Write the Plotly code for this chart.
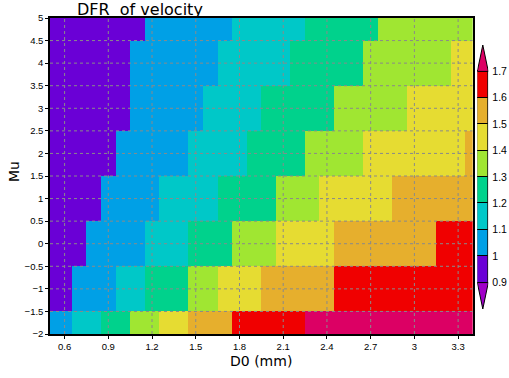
import plotly.graph_objects as go

# ---------------- data ----------------
x_d0 = [0.5, 0.6, 0.7, 0.8, 0.9, 1.0, 1.1, 1.2, 1.3, 1.4,
        1.5, 1.6, 1.7, 1.8, 1.9, 2.0, 2.1, 2.2, 2.3, 2.4,
        2.5, 2.6, 2.7, 2.8, 2.9, 3.0, 3.1, 3.2, 3.3, 3.4]
y_mu = [-2, -1, 0, 1, 2, 3, 4, 5]

dfr_mu_m2 = [1.05, 1.05, 1.15, 1.15, 1.25, 1.25, 1.35, 1.35, 1.45, 1.45,
             1.55, 1.55, 1.55, 1.65, 1.65, 1.65, 1.65, 1.65, 1.75, 1.75,
             1.75, 1.75, 1.75, 1.75, 1.75, 1.75, 1.75, 1.75, 1.75, 1.75]
dfr_mu_m1 = [0.95, 0.95, 1.05, 1.05, 1.05, 1.15, 1.15, 1.25, 1.25, 1.25,
             1.35, 1.35, 1.45, 1.45, 1.45, 1.55, 1.55, 1.55, 1.55, 1.55,
             1.65, 1.65, 1.65, 1.65, 1.65, 1.65, 1.65, 1.65, 1.65, 1.65]
dfr_mu_0 = [0.95, 0.95, 0.95, 1.05, 1.05, 1.05, 1.05, 1.15, 1.15, 1.15,
            1.25, 1.25, 1.25, 1.35, 1.35, 1.35, 1.45, 1.45, 1.45, 1.45,
            1.55, 1.55, 1.55, 1.55, 1.55, 1.55, 1.55, 1.65, 1.65, 1.65]
dfr_mu_1 = [0.95, 0.95, 0.95, 0.95, 1.05, 1.05, 1.05, 1.05, 1.15, 1.15,
            1.15, 1.15, 1.25, 1.25, 1.25, 1.25, 1.35, 1.35, 1.35, 1.45,
            1.45, 1.45, 1.45, 1.45, 1.55, 1.55, 1.55, 1.55, 1.55, 1.55]
dfr_mu_2 = [0.95, 0.95, 0.95, 0.95, 0.95, 1.05, 1.05, 1.05, 1.05, 1.05,
            1.15, 1.15, 1.15, 1.15, 1.25, 1.25, 1.25, 1.25, 1.35, 1.35,
            1.35, 1.35, 1.45, 1.45, 1.45, 1.45, 1.45, 1.45, 1.45, 1.55]
dfr_mu_3 = [0.95, 0.95, 0.95, 0.95, 0.95, 0.95, 1.05, 1.05, 1.05, 1.05,
            1.05, 1.15, 1.15, 1.15, 1.15, 1.25, 1.25, 1.25, 1.25, 1.25,
            1.35, 1.35, 1.35, 1.35, 1.35, 1.45, 1.45, 1.45, 1.45, 1.45]
dfr_mu_4 = [0.95, 0.95, 0.95, 0.95, 0.95, 0.95, 1.05, 1.05, 1.05, 1.05,
            1.05, 1.05, 1.15, 1.15, 1.15, 1.15, 1.15, 1.25, 1.25, 1.25,
            1.25, 1.25, 1.35, 1.35, 1.35, 1.35, 1.35, 1.35, 1.45, 1.45]
dfr_mu_5 = [0.95, 0.95, 0.95, 0.95, 0.95, 0.95, 0.95, 1.05, 1.05, 1.05,
            1.05, 1.05, 1.05, 1.15, 1.15, 1.15, 1.15, 1.15, 1.25, 1.25,
            1.25, 1.25, 1.25, 1.35, 1.35, 1.35, 1.35, 1.35, 1.35, 1.35]

levels = [0.9, 1.0, 1.1, 1.2, 1.3, 1.4, 1.5, 1.6, 1.7]
level_labels = ["0.9", "1", "1.1", "1.2", "1.3", "1.4", "1.5", "1.6", "1.7"]
fill_colors = ["#A000C8", "#6A00D6", "#00A0E6", "#00C8C8", "#00D28C",
               "#A0E632", "#E6DC32", "#E6AF2D", "#F00000", "#DC0064"]

x_ticks = [0.6, 0.9, 1.2, 1.5, 1.8, 2.1, 2.4, 2.7, 3.0, 3.3]
x_tick_labels = ["0.6", "0.9", "1.2", "1.5", "1.8", "2.1", "2.4", "2.7", "3", "3.3"]
y_ticks = [-2, -1.5, -1, -0.5, 0, 0.5, 1, 1.5, 2, 2.5, 3, 3.5, 4, 4.5, 5]
y_tick_labels = ["\u22122", "\u22121.5", "\u22121", "\u22120.5", "0", "0.5", "1", "1.5",
                 "2", "2.5", "3", "3.5", "4", "4.5", "5"]

# ---------------- figure ----------------
zmin, zmax = 0.8, 1.8
n = len(fill_colors)
cscale = []
for i, c in enumerate(fill_colors):
    cscale.append([i / n, c])
    cscale.append([(i + 1) / n, c])

z = [dfr_mu_m2, dfr_mu_m1, dfr_mu_0, dfr_mu_1, dfr_mu_2, dfr_mu_3, dfr_mu_4, dfr_mu_5]

fig = go.Figure()
fig.add_trace(go.Heatmap(x=x_d0, y=y_mu, z=z, colorscale=cscale, zmin=zmin, zmax=zmax,
                         showscale=False, hoverinfo="skip"))

# colorbar boxes as bars on a second axis
fig.add_trace(go.Bar(x=[0] * (len(levels) - 1), y=[levels[i + 1] - levels[i] for i in range(len(levels) - 1)],
                     base=levels[:-1], width=1, marker=dict(color=fill_colors[1:-1],
                     line=dict(color="black", width=1)), xaxis="x2", yaxis="y2",
                     showlegend=False, hoverinfo="skip"))
# end triangles
fig.add_trace(go.Scatter(x=[-0.5, 0.5, 0, -0.5], y=[levels[-1], levels[-1], zmax, levels[-1]],
                         fill="toself", fillcolor=fill_colors[-1], mode="lines",
                         line=dict(color="black", width=1), xaxis="x2", yaxis="y2",
                         showlegend=False, hoverinfo="skip"))
fig.add_trace(go.Scatter(x=[-0.5, 0.5, 0, -0.5], y=[levels[0], levels[0], zmin, levels[0]],
                         fill="toself", fillcolor=fill_colors[0], mode="lines",
                         line=dict(color="black", width=1), xaxis="x2", yaxis="y2",
                         showlegend=False, hoverinfo="skip"))

W, H = 509, 378
ml, mr, mt, mb = 50, 20, 18, 44
pw, ph = W - ml - mr, H - mt - mb


def px_x(p):
    return min(1.0, max(0.0, (p - ml) / pw))


def px_x_free(p):
    return (p - ml) / pw


def px_y(p):
    return (H - mb - p) / ph


shapes = []
for xv in x_ticks:
    shapes.append(dict(type="line", xref="x", yref="y", x0=xv, x1=xv, y0=-2, y1=5,
                       line=dict(color="#8a8a8a", width=1, dash="dot"), layer="above"))
for yv in y_ticks[1:-1]:
    shapes.append(dict(type="line", xref="x", yref="y", x0=0.5, x1=3.4, y0=yv, y1=yv,
                       line=dict(color="#8a8a8a", width=1, dash="dot"), layer="above"))

tick_font = dict(family="Liberation Sans, Arial, sans-serif", size=9.5, color="black")
fig.update_layout(
    width=W, height=H, margin=dict(l=ml, r=mr, t=mt, b=mb, autoexpand=False),
    paper_bgcolor="white", plot_bgcolor="white",
    showlegend=False, shapes=shapes,
    xaxis=dict(domain=[0, px_x(472.7)], range=[0.5, 3.4], tickvals=x_ticks, ticktext=x_tick_labels,
               showgrid=False, zeroline=False, showline=True, linecolor="black", linewidth=1.5,
               mirror=True, ticks="outside", ticklen=3, tickcolor="black", tickfont=tick_font,
               automargin=False),
    yaxis=dict(range=[-2, 5], tickvals=y_ticks, ticktext=y_tick_labels,
               showgrid=False, zeroline=False, showline=True, linecolor="black", linewidth=1.5,
               mirror=True, ticks="outside", ticklen=3, tickcolor="black", tickfont=tick_font,
               automargin=False),
    xaxis2=dict(domain=[px_x(477.3), px_x(488.3)], range=[-0.5, 0.5], anchor="y2",
                showgrid=False, zeroline=False, showticklabels=False, showline=False,
                automargin=False),
    yaxis2=dict(domain=[px_y(309), px_y(45)], range=[zmin, zmax], anchor="x2", side="right",
                tickvals=levels, ticktext=level_labels, showgrid=False, zeroline=False,
                showline=False, ticks="", ticklabelstandoff=3, automargin=False,
                tickfont=dict(family="Liberation Sans, Arial, sans-serif", size=10.5, color="black")),
    bargap=0,
    annotations=[
        dict(text="DFR  of velocity", x=px_x(75), y=px_y(9), xref="paper", yref="paper",
             xanchor="left", yanchor="middle", showarrow=False,
             font=dict(family="DejaVu Sans, sans-serif", size=16, color="black")),
        dict(text="Mu", x=px_x_free(14), y=px_y(172), xref="paper", yref="paper",
             xanchor="center", yanchor="middle", textangle=-90, showarrow=False,
             font=dict(family="DejaVu Sans, sans-serif", size=14, color="black")),
        dict(text="D0 (mm)", x=px_x(261), y=px_y(361), xref="paper", yref="paper",
             xanchor="center", yanchor="middle", showarrow=False,
             font=dict(family="DejaVu Sans, sans-serif", size=14, color="black")),
    ],
)

# place the figure at the window origin with no page margin or scrollbars
page_js = ("document.documentElement.style.margin='0';document.documentElement.style.padding='0';"
           "document.documentElement.style.overflow='hidden';"
           "document.body.style.margin='0';document.body.style.padding='0';"
           "document.body.style.overflow='hidden';")
fig.write_html("out.html", post_script=page_js,
               config={"displayModeBar": False, "responsive": False})
